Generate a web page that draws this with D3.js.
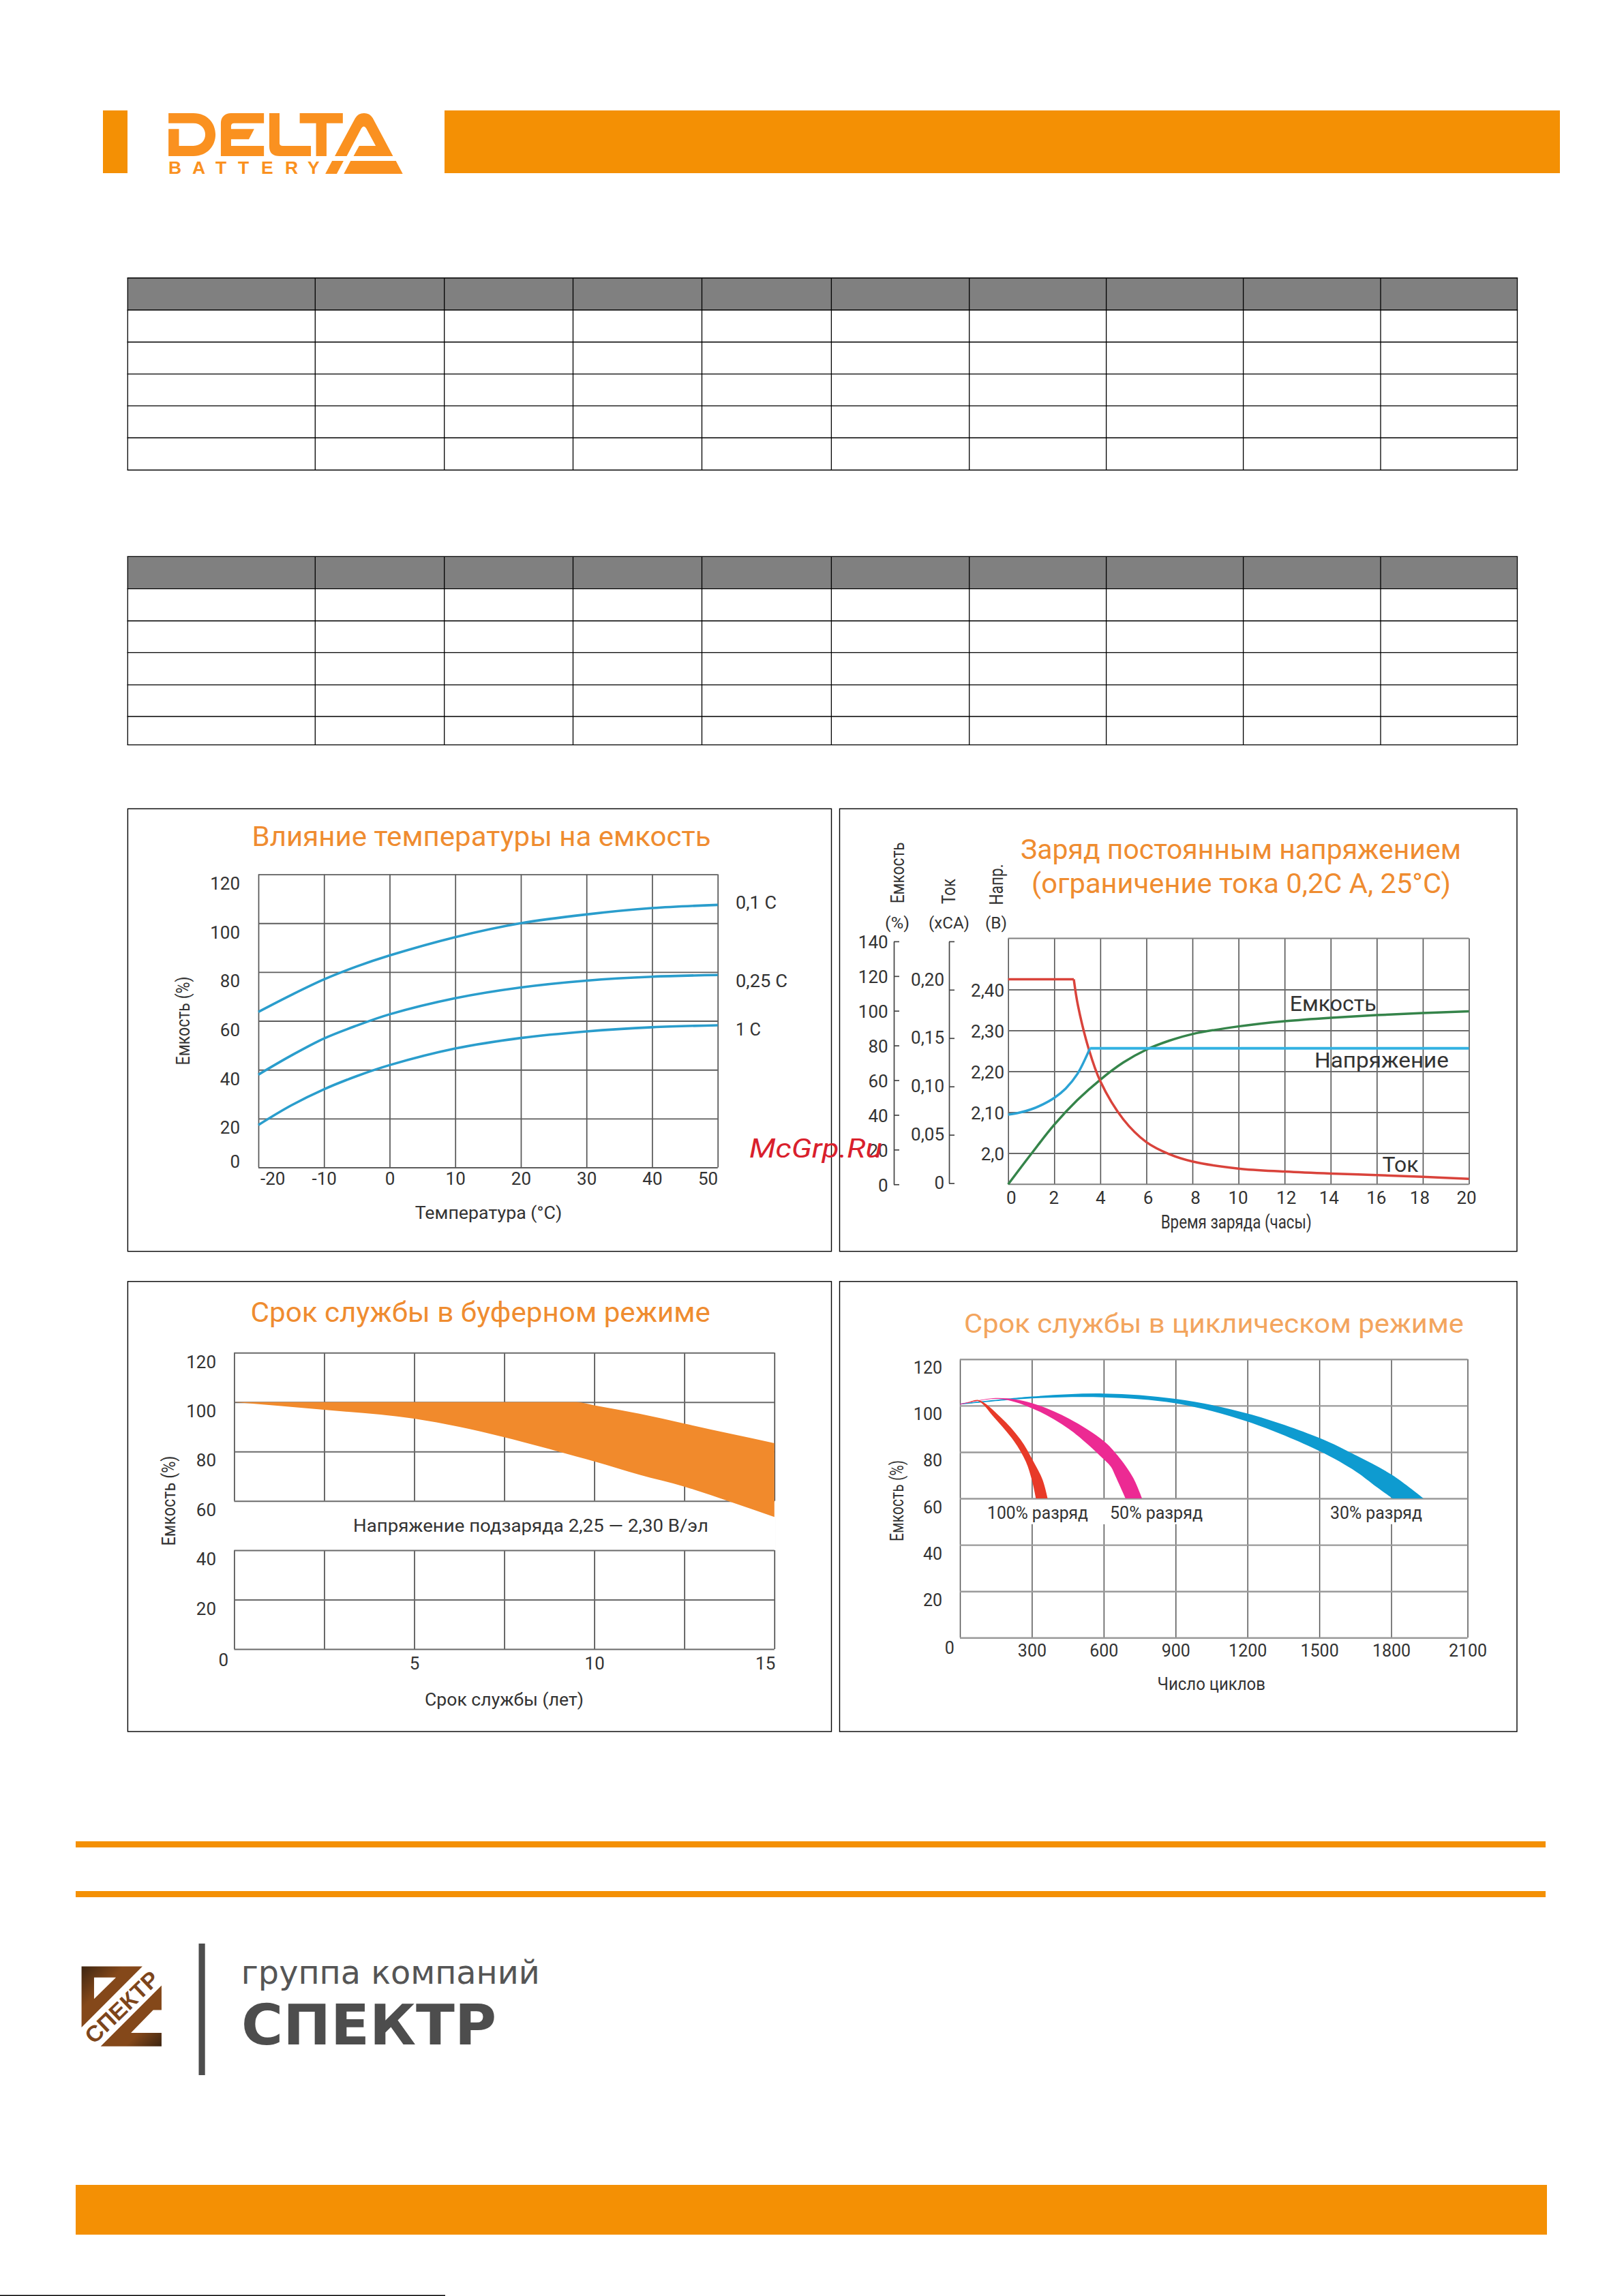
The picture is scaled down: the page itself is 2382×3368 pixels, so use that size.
<!DOCTYPE html>
<html><head><meta charset="utf-8">
<script src="https://cdn.jsdelivr.net/npm/d3@7"></script>
<style>html,body{margin:0;padding:0;background:#fff}svg{display:block}</style></head>
<body><svg id="page" width="2382" height="3368" viewBox="0 0 2382 3368"></svg>
<script>
// ---- data ----
const tempCelsius = [-20,-15,-10,-5,0,10,20,30,40,50];
const cap01C  = [63.7,70.6,77,82.3,86.8,94.3,100,103.6,106.2,107.5];
const cap025C = [38,45.8,52.8,58.1,62.7,69.3,73.7,76.5,78.1,78.8];
const cap1C   = [17.4,25.4,32,37.4,41.9,48.7,53,55.7,57.4,58.2];
const tempTicks = [-20,-10,0,10,20,30,40,50];
const percentTicks = [0,20,40,60,80,100,120];
const tempSeriesNames = ["0,1 C","0,25 C","1 C"];

const chargeHours = [0,2,4,6,8,10,12,14,16,18,20];
const holdHours = [0,2.85];
const holdCurrent = [0.2108,0.2108];
const fallHours = [2.85,3.03,3.5,4,5,6,7,8,10,12,14,16,18,20];
const fallCurrent = [0.2108,0.1837,0.1386,0.1054,0.066,0.0425,0.03,0.0225,0.0151,0.012,0.0099,0.0084,0.0066,0.0045];
const riseHours = [0,0.5,1,1.5,2,2.5,3,3.55];
const riseVolts = [2.094,2.099,2.107,2.119,2.135,2.158,2.193,2.256];
const flatHours = [3.55,20];
const flatVolts = [2.256,2.256];
const capHours = [0,1,2,3,4,5,6,7,8,10,12,14,16,18,20];
const capPercent = [0,17.5,34.3,48.5,60.3,70.2,77.6,82.8,86.6,91,94,96,97.5,98.7,99.7];
const voltTicks = [2.0,2.1,2.2,2.3,2.4];
const currentTicks = [0,0.05,0.10,0.15,0.20,0.25];
const capTicks = [0,20,40,60,80,100,120,140];

const lifeYears = [0,2.5,5,6.25,7.5,8.75,9.5,10,11.25,12.5,13.75,15];
const lifeUpper = [100,100,100,100,100,100,100,98.7,95.3,91.3,87.3,83.4];
const lifeLower = [100,96.9,93.3,90,85.8,81,78,76,70.6,65.8,59.8,53.5];
const lifeGridYears = [0,2.5,5,7.5,10,12.5,15];

const cycleTicks = [0,300,600,900,1200,1500,1800,2100];
const blueTopCycles = [0,300,600,900,1200,1500,1654,1802,1927];
const blueTopVal = [100.8,103.9,105.2,102.9,96.6,86.1,78.5,70.2,60];
const blueLowCycles = [0,300,600,900,1200,1500,1654,1737,1805];
const blueLowVal = [100.4,103.1,103.6,101,93.1,80.4,71.5,65.1,60];
const pinkTopCycles = [0,160,300,455,600,658,723,760];
const pinkTopVal = [100.8,103.3,101.1,94.4,84.8,78.5,68.9,60];
const pinkLowCycles = [0,160,300,455,600,631,649,691];
const pinkLowVal = [100.4,102.9,98.9,89.9,76.9,73.5,69.6,60];
const redTopCycles = [31,77,170,252,307,345,366];
const redTopVal = [101.1,102.4,95,85.5,75.9,68,60];
const redLowCycles = [31,77,142,225,275,300,317];
const redLowVal = [100.9,101.9,95,84.8,75.9,68,60];
// --------------------------------------

const svg = d3.select("#page");
const ORANGE="#f49004", TITLE="#ef8c30", DIN="Roboto, sans-serif", INK="#333";

function txt(p,s,x,y,o={}){
  const t=p.append("text").text(s).attr("font-family",o.family||DIN).attr("font-size",o.size||25)
    .attr("fill",o.fill||INK).attr("font-weight",o.weight||400);
  if(o.style)t.attr("font-style",o.style);
  if(o.anchor)t.attr("text-anchor",o.anchor);
  if(o.len)t.attr("textLength",o.len).attr("lengthAdjust","spacingAndGlyphs");
  if(o.rot)t.attr("transform",`translate(${x},${y}) rotate(${o.rot})`);
  else t.attr("x",x).attr("y",y);
  return t;
}
function rect(x0,y0,x1,y1,fill){svg.append("rect").attr("x",x0).attr("y",y0).attr("width",x1-x0).attr("height",y1-y0).attr("fill",fill);}

// ---- header ----
rect(151,162,187,254,ORANGE);
rect(652,162,2288,254,ORANGE);
const logo=svg.append("g").attr("transform","translate(130,140) scale(0.35714,0.33333)").attr("fill","#fa9120");
["M328,78H430C490,78 521,125 521,172C521,220 490,267 430,267H328V148H371V222H430C460,222 479,200 479,172C479,145 460,122 430,122H328Z",
 "M720,78H585C560,78 543,95 543,122V267H720V222H585V193H658L680,148H585V135Q585,122 598,122H720Z",
 "M742,78H784V210Q784,222 798,222H913V267H785Q742,267 742,225Z",
 "M867,78H1044V122H977V267H934V122H867Z",
 "M1011,267L1095,100Q1107,78 1131,78Q1155,78 1167,100L1250,267H1088L1111,222H1179L1140,145Q1130,128 1120,145L1060,267Z",
 "M972,345L1000,288H1047L1019,345Z","M1048,345L1076,288H1262L1290,345Z"].forEach(d=>logo.append("path").attr("d",d));
svg.append("text").text("BATTERY").attr("x","247 282 316 349 383 418 451").attr("y",255)
  .attr("font-family","Liberation Sans, Arial").attr("font-weight",700).attr("font-size",26.5).attr("fill","#fa9120");

// ---- two empty tables ----
const tableColumnX=[187.3,462.3,651.7,840.5,1029.5,1219.4,1421.7,1622.6,1823.6,2025,2225.5];
function table(rows){
  rect(tableColumnX[0],rows[0],tableColumnX[10],rows[1],"#808080");
  rows.forEach(y=>svg.append("line").attr("x1",tableColumnX[0]-0.7).attr("x2",tableColumnX[10]+0.7).attr("y1",y).attr("y2",y).attr("stroke","#000").attr("stroke-width",1.4));
  tableColumnX.forEach(x=>svg.append("line").attr("x1",x).attr("x2",x).attr("y1",rows[0]).attr("y2",rows[rows.length-1]).attr("stroke","#000").attr("stroke-width",1.3));
}
table([407.7,454.7,501.7,548.6,595.4,642.3,689.5]);
table([816.4,863.6,910.8,957.4,1004.6,1051,1092.6]);

// ---- panels ----
function panel(x0,y0,x1,y1){svg.append("rect").attr("x",x0).attr("y",y0).attr("width",x1-x0).attr("height",y1-y0).attr("fill","#fff").attr("stroke","#000").attr("stroke-width",1.4);}
panel(187.4,1186.4,1219.5,1835.6); panel(1231.5,1186.4,2225,1835.6);
panel(187.4,1879.8,1219.5,2540);   panel(1231.5,1879.8,2225,2540);

function grid(g,orient,scale,ticks,size,color,w){
  const ax=(orient==="left"?d3.axisLeft(scale):d3.axisBottom(scale)).tickValues(ticks).tickSize(size).tickSizeOuter(0).tickFormat("");
  const a=g.call(ax); a.select(".domain").remove();
  a.selectAll(".tick line").attr("stroke",color).attr("stroke-width",w);
  a.selectAll(".tick text").remove();
}
function labels(parent,orient,scale,ticks,fmt,place,size){
  const ax=(orient==="left"?d3.axisLeft(scale):d3.axisBottom(scale)).tickValues(ticks).tickSize(0).tickFormat(fmt);
  const a=parent.append("g").call(ax); a.select(".domain").remove();
  a.attr("font-family",null);
  a.selectAll(".tick text").each(function(d){
    const o=place(d);
    d3.select(this).attr("x",o.x).attr("y",o.y).attr("dy",null).attr("text-anchor",o.anchor)
      .attr("font-family",DIN).attr("font-size",size||26).attr("fill",INK);
  });
  return a;
}
const zip=(xs,ys)=>xs.map((x,i)=>[x,ys[i]]);

// ---- chart 1: temperature ----
(function(){
  const L=379,R=1052.7,T=1282.6,B=1712.5;
  const x=d3.scaleLinear().domain([-20,50]).range([L,R]);
  const y=d3.scaleLinear().domain([0,120]).range([B,T]);
  const g=svg.append("g");
  grid(g.append("g").attr("transform",`translate(0,${T})`),"bottom",x,tempTicks,B-T,"#555",1.7);
  grid(g.append("g").attr("transform",`translate(${L},0)`),"left",y,percentTicks,-(R-L),"#5c5c5c",1.9);
  const line=d3.line().x(d=>x(d[0])).y(d=>y(d[1])).curve(d3.curveCatmullRom);
  [cap01C,cap025C,cap1C].forEach(v=>g.append("path").attr("d",line(zip(tempCelsius,v))).attr("fill","none").attr("stroke","#2a9dcc").attr("stroke-width",3.6));
  g.append("g").attr("transform",`translate(${L},0)`).call(s=>labels(s,"left",y,percentTicks,d=>d,d=>({x:-27,y:d===0?0:22,anchor:"end"})));
  g.append("g").attr("transform",`translate(0,${B})`).call(s=>labels(s,"bottom",x,tempTicks,d=>d,d=>({x:d===-20?2.5:0,y:25.5,anchor:d===-20?"start":d===50?"end":"middle"})));
  txt(g,"Влияние температуры на емкость",369.5,1241,{size:40,fill:TITLE,len:673});
  txt(g,tempSeriesNames[0],1079,1333,{size:25,len:60});
  txt(g,tempSeriesNames[1],1079,1447.5,{size:25,len:76});
  txt(g,tempSeriesNames[2],1079,1519,{size:25,len:37});
  txt(g,"Температура (°C)",608.7,1787.7,{size:26,len:215.6});
  txt(g,"Емкость (%)",278,1562.5,{size:28,len:130,rot:-90});
})();

// ---- chart 2: charge ----
(function(){
  const L=1478.7,R=2154.5,T=1376.6,B=1737.3;
  const x=d3.scaleLinear().domain([0,20]).range([L,R]);
  const v=d3.scaleLinear().domain([2.0,2.4]).range([1691.5,1451.4]);
  const cur=d3.scaleLinear().domain([0,0.25]).range([1735.6,1380.9]);
  const cap=d3.scaleLinear().domain([0,140]).range([1737.3,1380.9]);
  const g=svg.append("g");
  grid(g.append("g").attr("transform",`translate(0,${T})`),"bottom",x,chargeHours,B-T,"#555",1.6);
  grid(g.append("g").attr("transform",`translate(${L},0)`),"left",v,voltTicks,-(R-L),"#6a6a6a",2);
  [T,B].forEach(Y=>g.append("line").attr("x1",L).attr("x2",R).attr("y1",Y).attr("y2",Y).attr("stroke","#808080").attr("stroke-width",2));
  const lc=d3.line().x(d=>x(d[0])).y(d=>cur(d[1])).curve(d3.curveCatmullRom);
  const lv=d3.line().x(d=>x(d[0])).y(d=>v(d[1])).curve(d3.curveCatmullRom);
  const lk=d3.line().x(d=>x(d[0])).y(d=>cap(d[1])).curve(d3.curveCatmullRom);
  const S=(d,c,w)=>g.append("path").attr("d",d).attr("fill","none").attr("stroke",c).attr("stroke-width",w);
  S(lk(zip(capHours,capPercent)),"#35844a",3.5);
  S(lc(zip(holdHours,holdCurrent)),"#d9433b",3.5);
  S(lc(zip(fallHours,fallCurrent)),"#d9433b",3.5);
  S(lv(zip(riseHours,riseVolts)),"#2ba2d4",3.5);
  S(lv(zip(flatHours,flatVolts)),"#33b2e2",4);
  // left axes
  function sideAxis(X,scale,ticks,fmt,place){
    const a=g.append("g").attr("transform",`translate(${X},0)`).call(d3.axisRight(scale).tickValues(ticks).tickSize(8).tickSizeOuter(0).tickFormat(fmt));
    a.select(".domain").attr("stroke","#444").attr("stroke-width",1.7);
    a.selectAll(".tick line").attr("stroke","#444").attr("stroke-width",1.7);
    a.selectAll(".tick text").each(function(d){const o=place(d);d3.select(this).attr("x",o.x).attr("y",o.y).attr("dy",null).attr("text-anchor","end").attr("font-family",DIN).attr("font-size",26).attr("fill",INK);});
  }
  sideAxis(1311,cap,capTicks,d=>d,()=>({x:-8.3,y:10}));
  const comma=(d)=>d3.format(".2f")(d).replace(".",",");
  sideAxis(1392,cur,currentTicks,d=>d===0?"0":d===0.25?"":comma(d),d=>({x:-7,y:Math.abs(d-0.2)<1e-9?-6:8}));
  g.append("g").attr("transform",`translate(${L},0)`).call(s=>labels(s,"left",v,voltTicks,d=>d===2?"2,0":comma(d),()=>({x:-5.7,y:10,anchor:"end"})));
  const nudge={0:4,2:-1,4:0,6:2,8:4,10:-1,12:2,14:-3,16:-1,18:-5,20:-4};
  g.append("g").attr("transform",`translate(0,${B})`).call(s=>labels(s,"bottom",x,chargeHours,d=>d,d=>({x:nudge[d],y:28.5,anchor:"middle"})));
  txt(g,"Заряд постоянным напряжением",1497,1260,{size:40,fill:TITLE,len:646});
  txt(g,"(ограничение тока 0,2С А, 25°С)",1513,1309.5,{size:40,fill:TITLE,len:615});
  txt(g,"Емкость",1326,1325.3,{size:28,len:90,rot:-90});
  txt(g,"Ток",1401,1326,{size:28,len:37,rot:-90});
  txt(g,"Напр.",1471,1327.4,{size:28,len:60,rot:-90});
  txt(g,"(%)",1298,1361.6,{size:24,len:36});
  txt(g,"(xCA)",1362,1361.6,{size:24,len:60});
  txt(g,"(В)",1445,1361.6,{size:24,len:32});
  txt(g,"Время заряда (часы)",1702.7,1801.8,{size:27,len:221});
  txt(g,"Емкость",1891.7,1482.6,{size:31,len:127});
  txt(g,"Напряжение",1928,1566,{size:31,len:197});
  txt(g,"Ток",2027.6,1719,{size:31,len:53});
})();

// ---- chart 3: float life ----
(function(){
  const L=343.4,R=1135.8,T=1984.3,B=2419;
  const x=d3.scaleLinear().domain([0,15]).range([L,R]);
  const y=d3.scaleLinear().domain([0,120]).range([B,T]);
  const g=svg.append("g");
  grid(g.append("g").attr("transform",`translate(0,${T})`),"bottom",x,lifeGridYears,B-T,"#444",1.6);
  g.append("rect").attr("x",L-2).attr("y",y(60)).attr("width",R-L+4).attr("height",y(40)-y(60)).attr("fill","#fff");
  grid(g.append("g").attr("transform",`translate(${L},0)`),"left",y,percentTicks,-(R-L),"#6a6a6a",2);
  const area=d3.area().x(d=>x(d[0])).y0(d=>y(d[1])).y1(d=>y(d[2])).curve(d3.curveMonotoneX);
  g.append("path").attr("d",area(lifeYears.map((t,i)=>[t,lifeLower[i],lifeUpper[i]]))).attr("fill","#f18a2c");
  g.append("g").attr("transform",`translate(${L},0)`).call(s=>labels(s,"left",y,percentTicks,d=>d,d=>({x:d===0?-8.4:-26.4,y:d===0?24:21.7,anchor:"end"})));
  g.append("g").attr("transform",`translate(0,${B})`).call(s=>labels(s,"bottom",x,[5,10,15],d=>d,d=>({x:d===15?1:0,y:29.7,anchor:d===15?"end":"middle"})));
  txt(g,"Срок службы в буферном режиме",367.5,1939,{size:40,fill:TITLE,len:674.5});
  txt(g,"Напряжение подзаряда 2,25 — 2,30 В/эл",518,2246.6,{size:26,len:521});
  txt(g,"Срок службы (лет)",623,2501.6,{size:26,len:233});
  txt(g,"Емкость (%)",257,2267.5,{size:28,len:132,rot:-90});
})();

// ---- chart 4: cycle life ----
(function(){
  const L=1408,R=2152.5,T=1993.8,B=2402.3;
  const xEnd=1225+1260/1.545;
  const x=d3.scaleLinear().domain([0,1800,2100]).range([L,xEnd,R]);
  const y=d3.scaleLinear().domain([0,120]).range([B,T]);
  const g=svg.append("g");
  grid(g.append("g").attr("transform",`translate(0,${T})`),"bottom",x,cycleTicks,B-T,"#555",1.5);
  const bandY0=y(60)+1, bandY1=1875+832/2.306;
  [[1444,1621],[1616,1766],[1948,2089]].forEach(r=>g.append("rect").attr("x",r[0]).attr("y",bandY0).attr("width",r[1]-r[0]).attr("height",bandY1-bandY0).attr("fill","#fff"));
  grid(g.append("g").attr("transform",`translate(${L},0)`),"left",y,percentTicks,-(R-L),"#9a9a9a",2.4);
  const band=d3.area().x0(d=>x(d[0])).y0(d=>y(d[1])).x1(d=>x(d[2])).y1(d=>y(d[3])).curve(d3.curveCatmullRom);
  const draw=(a,b,c,d,col)=>g.append("path").attr("d",band(a.map((t,i)=>[t,b[i],c[i],d[i]]))).attr("fill",col);
  draw(blueTopCycles,blueTopVal,blueLowCycles,blueLowVal,"#0e9bd0");
  draw(pinkTopCycles,pinkTopVal,pinkLowCycles,pinkLowVal,"#ec2a93");
  draw(redTopCycles,redTopVal,redLowCycles,redLowVal,"#e83a28");
  g.append("g").attr("transform",`translate(${L},0)`).call(s=>labels(s,"left",y,percentTicks,d=>d,d=>({x:d===0?-8.2:-26,y:d===0?23.4:21,anchor:"end"}),25));
  g.append("g").attr("transform",`translate(0,${B})`).call(s=>labels(s,"bottom",x,cycleTicks.slice(1),d=>d,()=>({x:0,y:27.7,anchor:"middle"}),25));
  txt(g,"Срок службы в циклическом режиме",1414,1955,{size:39,fill:"#f3a55e",len:733});
  txt(g,"100% разряд",1448,2228,{size:25,len:148});
  txt(g,"50% разряд",1628,2228,{size:25,len:136});
  txt(g,"30% разряд",1951,2228,{size:25,len:135});
  txt(g,"Число циклов",1697.5,2479,{size:26,len:158.5});
  txt(g,"Емкость (%)",1325.3,2261,{size:28,len:119,rot:-90});
})();

// ---- watermark ----
txt(svg,"McGrp.Ru",1099,1698,{size:38,fill:"#d9202c",style:"italic",len:195});

// ---- footer ----
rect(111,2701,2267,2710,ORANGE);
rect(111,2774,2267,2783,ORANGE);
rect(111,3205,2269,3278,ORANGE);
rect(0,3366.5,653,3368,"#000");
const grad=svg.append("defs").append("linearGradient").attr("id","sp").attr("x1",0).attr("y1",0).attr("x2",1).attr("y2",1);
[[0,"#3d2511"],[0.35,"#84481a"],[0.7,"#84481a"],[1,"#3d2511"]].forEach(s=>grad.append("stop").attr("offset",s[0]).attr("stop-color",s[1]));
const sp=svg.append("g").attr("transform","translate(90,2680) scale(0.5102,0.4388)");
sp.append("path").attr("fill","url(#sp)").attr("fill-rule","evenodd").attr("d","M58,466H233L58,670ZM94,503V575L157,503Z");
sp.append("path").attr("fill","url(#sp)").attr("d","M113,733L288,530V612H264L200,688H288V733Z");
svg.append("text").text("СПЕКТР").attr("transform","translate(178.5,2944) rotate(-44)").attr("text-anchor","middle").attr("dy","0.36em")
  .attr("font-family","Liberation Sans, Arial").attr("font-weight",700).attr("font-size",33).attr("fill","#7d451b")
  .attr("textLength",136).attr("lengthAdjust","spacingAndGlyphs");
rect(291.5,2851,300.7,3044,"#4d4d4d");
txt(svg,"группа компаний",353.8,2909.5,{size:48,family:"DejaVu Sans",fill:"#555",len:438});
txt(svg,"СПЕКТР",354,2999,{size:82,family:"DejaVu Sans",weight:700,fill:"#4d4d4d",len:374});
</script></body></html>
